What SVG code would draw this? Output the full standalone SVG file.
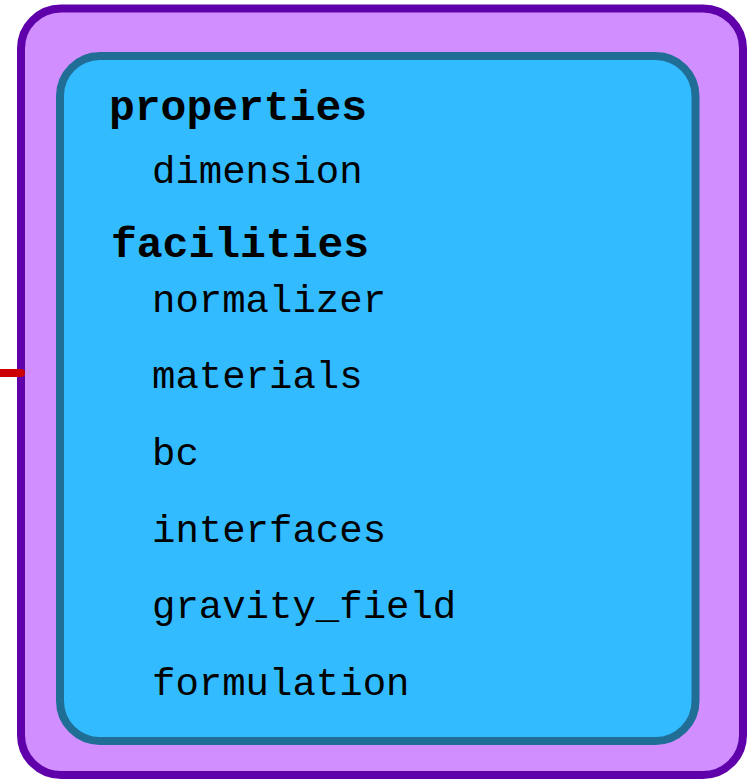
<svg xmlns="http://www.w3.org/2000/svg" width="747" height="779" viewBox="0 0 747 779">
<style>
.t{font-family:"Liberation Mono","Courier New",monospace;fill:#000}
.h{font-size:43px;font-weight:bold}
.i{font-size:39px}
</style>
<rect width="747" height="779" fill="#fff"/>
<g id="outer">
<rect x="21" y="8.5" width="722" height="766.5" rx="40" fill="#d08eff" stroke="#6000aa" stroke-width="8"/>
</g>
<g id="connectors">
<line x1="-5" y1="373" x2="21" y2="373" stroke="#cc0000" stroke-width="8" stroke-linecap="round"/>
</g>
<g id="inner">
<rect x="60" y="56" width="635.5" height="685" rx="40" fill="#33bbff" stroke="#206e96" stroke-width="8"/>
<text class="t h" x="109" y="120">properties</text>
<text class="t i" x="152" y="183">dimension</text>
<text class="t h" x="111" y="257">facilities</text>
<text class="t i" x="152" y="312">normalizer</text>
<text class="t i" x="152" y="388">materials</text>
<text class="t i" x="152" y="465">bc</text>
<text class="t i" x="152" y="542">interfaces</text>
<text class="t i" x="152" y="618">gravity_field</text>
<text class="t i" x="152" y="695">formulation</text>
</g>
</svg>
